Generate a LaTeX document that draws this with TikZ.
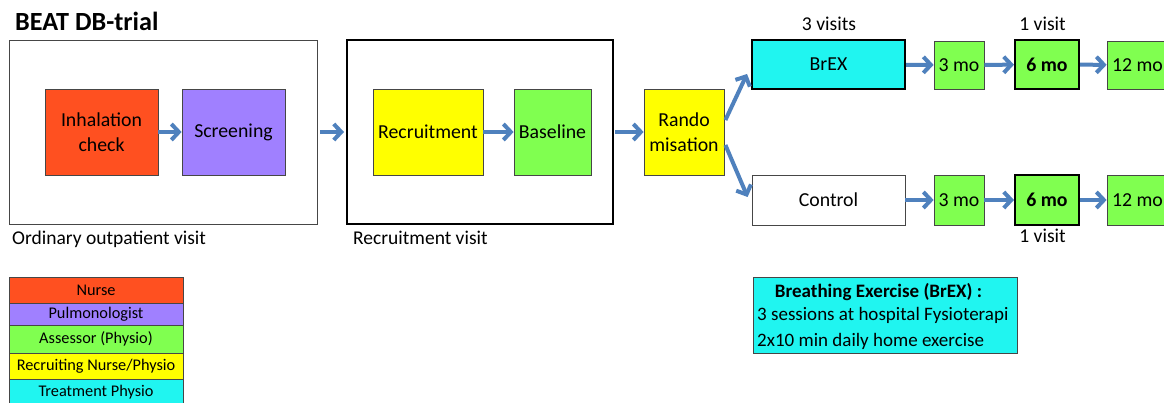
\documentclass[tikz,border=0pt]{standalone}
\usepackage{fontspec}
\setmainfont{Carlito}
\usetikzlibrary{arrows.meta,calc}

\definecolor{nurse}{RGB}{255,80,32}
\definecolor{pulmo}{RGB}{160,128,255}
\definecolor{assess}{RGB}{128,255,80}
\definecolor{recruit}{RGB}{255,255,0}
\definecolor{treat}{RGB}{32,245,240}
\definecolor{flow}{RGB}{79,129,189}
\definecolor{edge}{RGB}{70,70,70}

\tikzset{
  stagebox/.style={draw=edge, line width=0.8pt, inner sep=0pt, align=center,
    font=\fontsize{19.8}{25}\selectfont},
  boldstage/.style={font=\bfseries\fontsize{19.8}{25}\selectfont},
  keybox/.style={draw=edge, line width=0.8pt, inner sep=0pt, minimum width=174pt,
    font=\fontsize{16.3}{19}\selectfont},
  strong/.style={draw=black, line width=2pt},
  flowarrow/.style={draw=flow, line width=4pt,
    -{Straight Barb[length=7.5pt,width=16pt]}},
  caption/.style={inner sep=0pt, font=\fontsize{19.5}{23}\selectfont},
  count/.style={inner sep=0pt, anchor=base, font=\fontsize{19.6}{23}\selectfont},
  notetext/.style={inner sep=0pt, font=\fontsize{19}{22}\selectfont},
}

\begin{document}
\begin{tikzpicture}[x=1pt,y=-1pt]
\clip (0,0) rectangle (1164,403);
\fill[white] (0,0) rectangle (1164,403);

% title
\node[inner sep=0pt, anchor=base west, font=\bfseries\fontsize{26.2}{30}\selectfont] (title) at (15,31) {BEAT DB-trial};

% visit frames
\node[draw=edge, line width=0.9pt, minimum width=308pt, minimum height=184pt] (visit1) at (163,132) {};
\node[draw=black, line width=2pt, minimum width=266pt, minimum height=184pt] (visit2) at (480,132) {};
\node[caption, anchor=base west] (lab1) at (12,245) {Ordinary outpatient visit};
\node[caption, anchor=base west] (lab2) at (353,245) {Recruitment visit};

% first visit
\node[stagebox, fill=nurse, minimum width=113pt, minimum height=86pt] (inhal) at (101.5,132) {Inhalation\\check};
\node[stagebox, fill=pulmo, minimum width=103pt, minimum height=86pt] (screen) at (233.5,132) {Screening};

% recruitment visit
\node[stagebox, fill=recruit, minimum width=110pt, minimum height=86pt] (recr) at (428,132) {Recruitment};
\node[stagebox, fill=assess, minimum width=77pt, minimum height=86pt] (base) at (552.5,132) {Baseline};

% randomisation
\node[stagebox, fill=recruit, minimum width=80pt, minimum height=86pt] (rando) at (684,132) {Rando\\misation};

% intervention arm
\node[stagebox, strong, fill=treat, minimum width=153pt, minimum height=49pt] (brex) at (828.5,64.5) {BrEX};
\node[stagebox, fill=assess, minimum width=50pt, minimum height=48pt] (t3) at (959,65) {3 mo};
\node[stagebox, strong, boldstage, fill=assess, minimum width=64pt, minimum height=49pt] (t6) at (1047,64.5) {6 mo};
\node[stagebox, fill=assess, minimum width=61pt, minimum height=48pt] (t12) at (1137.5,65) {12 mo};

% control arm
\node[stagebox, fill=white, minimum width=153pt, minimum height=50pt] (ctrl) at (828.5,200) {Control};
\node[stagebox, fill=assess, minimum width=50pt, minimum height=50pt] (c3) at (959,200) {3 mo};
\node[stagebox, strong, boldstage, fill=assess, minimum width=64pt, minimum height=50pt] (c6) at (1047,200) {6 mo};
\node[stagebox, fill=assess, minimum width=61pt, minimum height=50pt] (c12) at (1137.5,200) {12 mo};

% visit counts
\node[count] (v3) at (829,31) {3 visits};
\node[count] (v1a) at (1042.5,31) {1 visit};
\node[count] (v1b) at (1042.5,243) {1 visit};

% flow
\draw[flowarrow] (inhal) -- (screen);
\draw[flowarrow, shorten <=3pt, shorten >=2pt] (visit1) -- (visit2);
\draw[flowarrow] (recr) -- (base);
\draw[flowarrow, shorten <=1pt] (visit2) -- (rando);
\coordinate (upstart) at ($(rando.east)+(1,-12)$);
\coordinate (upend) at ($(brex.south west)+(-4,-16)$);
\coordinate (downstart) at ($(rando.east)+(1,13)$);
\coordinate (downend) at ($(ctrl.west)+(-4,-3)$);
\draw[flowarrow] (upstart) -- (upend);
\draw[flowarrow] (downstart) -- (downend);
\draw[flowarrow] (brex) -- (t3);
\draw[flowarrow] (t3) -- (t6);
\draw[flowarrow] (t6) -- (t12);
\draw[flowarrow] (ctrl) -- (c3);
\draw[flowarrow] (c3) -- (c6);
\draw[flowarrow] (c6) -- (c12);

% staff legend
\node[keybox, fill=nurse, minimum height=26pt] (kn) at (96,290) {Nurse};
\node[keybox, fill=pulmo, minimum height=22pt] (kp) at (96,314) {Pulmonologist};
\node[keybox, fill=assess, minimum height=28pt] (ka) at (96,339) {Assessor (Physio)};
\node[keybox, fill=recruit, minimum height=26pt] (kr) at (96,366) {Recruiting Nurse/Physio};
\node[keybox, fill=treat, minimum height=26pt] (kt) at (96,392) {Treatment Physio};

% intervention note
\node[draw=edge, line width=0.8pt, fill=treat, minimum width=264pt, minimum height=76pt, inner sep=0pt] (note) at (885,315) {};
\node[notetext, anchor=base, font=\bfseries\fontsize{19}{22}\selectfont] (noteh) at (878.5,298) {Breathing Exercise (BrEX) :};
\node[notetext, anchor=base west] (note1) at (757,320) {3 sessions at hospital Fysioterapi};
\node[notetext, anchor=base west] (note2) at (757,346) {2x10 min daily home exercise};
\end{tikzpicture}
\end{document}
